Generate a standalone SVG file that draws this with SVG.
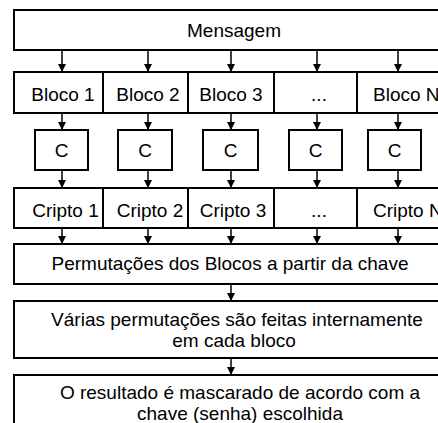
<svg xmlns="http://www.w3.org/2000/svg" width="438" height="423" viewBox="0 0 438 423">
<style>
.box{fill:#fff;stroke:#000;stroke-width:2}
.t{font-family:"Liberation Sans",Arial,sans-serif;font-size:19px;fill:#000;text-anchor:middle}
.s{text-anchor:start}
.c line{stroke:#000;stroke-width:1.5;marker-end:url(#ah)}
</style>
<defs>
<marker id="ah" markerUnits="userSpaceOnUse" markerWidth="8" markerHeight="9" refX="7" refY="4" orient="auto">
<path d="M0,0 L8,4 L0,8 z" fill="#000"/>
</marker>
</defs>
<rect width="438" height="423" fill="#fff"/>
<g id="mensagem"><rect class="box" x="14" y="10" width="440" height="40"/><text class="t" x="234" y="37">Mensagem</text></g>
<g id="bloco1"><rect class="box" x="14" y="72" width="89" height="41"/><text class="t" x="63" y="101">Bloco 1</text></g>
<g id="bloco2"><rect class="box" x="103" y="72" width="85" height="41"/><text class="t" x="148" y="101">Bloco 2</text></g>
<g id="bloco3"><rect class="box" x="188" y="72" width="86" height="41"/><text class="t" x="231" y="101">Bloco 3</text></g>
<g id="blocod"><rect class="box" x="274" y="72" width="83" height="41"/><text class="t" x="319" y="101">...</text></g>
<g id="blocoN"><rect class="box" x="357" y="72" width="95" height="41"/><text class="t s" x="373" y="101">Bloco N</text></g>
<g id="c1"><rect class="box" x="35" y="130" width="53" height="40"/><text class="t" x="61.5" y="157">C</text></g>
<g id="c2"><rect class="box" x="118" y="130" width="54" height="40"/><text class="t" x="145" y="157">C</text></g>
<g id="c3"><rect class="box" x="203" y="130" width="55" height="40"/><text class="t" x="230.5" y="157">C</text></g>
<g id="c4"><rect class="box" x="289" y="130" width="53" height="40"/><text class="t" x="315.5" y="157">C</text></g>
<g id="c5"><rect class="box" x="368" y="130" width="53" height="40"/><text class="t" x="394.5" y="157">C</text></g>
<g id="cripto1"><rect class="box" x="14" y="188" width="89" height="40"/><text class="t" x="65.5" y="217">Cripto 1</text></g>
<g id="cripto2"><rect class="box" x="103" y="188" width="85" height="40"/><text class="t" x="150" y="217">Cripto 2</text></g>
<g id="cripto3"><rect class="box" x="188" y="188" width="86" height="40"/><text class="t" x="233" y="217">Cripto 3</text></g>
<g id="criptod"><rect class="box" x="274" y="188" width="83" height="40"/><text class="t" x="319" y="217">...</text></g>
<g id="criptoN"><rect class="box" x="357" y="188" width="95" height="40"/><text class="t s" x="373" y="217">Cripto N</text></g>
<g id="permutacoes"><rect class="box" x="14" y="244" width="440" height="40"/><text class="t" x="230" y="270">Permutações dos Blocos a partir da chave</text></g>
<g id="varias"><rect class="box" x="14" y="301" width="440" height="57"/><text class="t" x="237" y="326">Várias permutações são feitas internamente</text><text class="t" x="234" y="347">em cada bloco</text></g>
<g id="resultado"><rect class="box" x="14" y="375" width="440" height="60"/><text class="t" x="240" y="399">O resultado é mascarado de acordo com a</text><text class="t" x="240" y="420">chave (senha) escolhida</text></g>
<g id="connectors" class="c">
<line x1="62" y1="50" x2="62" y2="71"/><line x1="148" y1="50" x2="148" y2="71"/><line x1="231" y1="50" x2="231" y2="71"/><line x1="317" y1="50" x2="317" y2="71"/><line x1="398" y1="50" x2="398" y2="71"/>
<line x1="62" y1="113" x2="62" y2="129"/><line x1="148" y1="113" x2="148" y2="129"/><line x1="231" y1="113" x2="231" y2="129"/><line x1="317" y1="113" x2="317" y2="129"/><line x1="398" y1="113" x2="398" y2="129"/>
<line x1="62" y1="170" x2="62" y2="187"/><line x1="148" y1="170" x2="148" y2="187"/><line x1="231" y1="170" x2="231" y2="187"/><line x1="317" y1="170" x2="317" y2="187"/><line x1="398" y1="170" x2="398" y2="187"/>
<line x1="62" y1="228" x2="62" y2="243"/><line x1="148" y1="228" x2="148" y2="243"/><line x1="231" y1="228" x2="231" y2="243"/><line x1="317" y1="228" x2="317" y2="243"/><line x1="398" y1="228" x2="398" y2="243"/>
<line x1="231" y1="284" x2="231" y2="300"/>
<line x1="231" y1="358" x2="231" y2="374"/>
</g>
</svg>
